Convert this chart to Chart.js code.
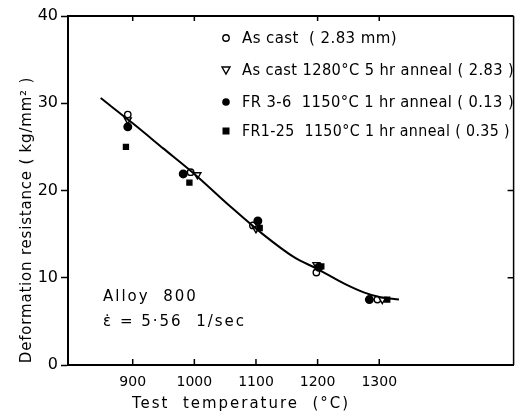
<!DOCTYPE html>
<html>
<head>
<meta charset="utf-8">
<title>Alloy 800 deformation resistance</title>
<script src="https://cdn.jsdelivr.net/npm/chart.js@4.4.1/dist/chart.umd.min.js"></script>
<style>
  html, body { margin: 0; padding: 0; background: #fff; }
  #wrap { width: 519px; height: 414px; }
</style>
</head>
<body>
<div id="wrap"><canvas id="chart" width="519" height="414"></canvas></div>
<script>
// axis ticks
var xTicks = [900, 1000, 1100, 1200, 1300];
var yTicks = [0, 10, 20, 30, 40];

// measured points, one pair of arrays per specimen
var asCastX = [892, 994, 1095, 1198, 1297];
var asCastY = [28.7, 22.1, 16.0, 10.6, 7.5];
var annealX = [892, 1005, 1100, 1198, 1305];
var annealY = [28.1, 21.8, 15.6, 11.5, 7.5];
var fr36X = [892, 982, 1103, 1202, 1284];
var fr36Y = [27.3, 21.9, 16.5, 11.2, 7.5];
var fr125X = [889, 992, 1106, 1206, 1313];
var fr125Y = [25.0, 20.9, 15.7, 11.3, 7.5];

// hand-fitted curve through all specimens
var fitX = [848, 900, 950, 1000, 1058, 1111, 1163, 1200, 1244, 1276, 1300, 1332];
var fitY = [30.6, 27.7, 24.8, 21.9, 18.2, 15.0, 12.3, 11.0, 9.3, 8.3, 7.8, 7.5];

var legendLabels = [
  'As cast  ( 2.83 mm)',
  'As cast 1280\u00b0C 5 hr anneal ( 2.83 )',
  'FR 3-6  1150\u00b0C 1 hr anneal ( 0.13 )',
  'FR1-25  1150\u00b0C 1 hr anneal ( 0.35 )'
];

function pts(xs, ys) {
  return xs.map(function (x, i) { return { x: x, y: ys[i] }; });
}

var ink = '#000';

function marker(ctx, kind, x, y) {
  ctx.save();
  ctx.lineWidth = 1.4;
  ctx.strokeStyle = ink;
  ctx.fillStyle = ink;
  ctx.beginPath();
  if (kind === 'open') {
    ctx.fillStyle = '#fff';
    ctx.arc(x, y, 3.2, 0, Math.PI * 2);
    ctx.fill();
    ctx.stroke();
  } else if (kind === 'tri') {
    ctx.fillStyle = '#fff';
    ctx.moveTo(x - 4, y - 3);
    ctx.lineTo(x + 4, y - 3);
    ctx.lineTo(x, y + 4);
    ctx.closePath();
    ctx.fill();
    ctx.stroke();
  } else if (kind === 'dot') {
    ctx.arc(x, y, 3.8, 0, Math.PI * 2);
    ctx.fill();
  } else {
    ctx.fillRect(x - 3.5, y - 3.5, 7, 7);
  }
  ctx.restore();
}

// frame, inward ticks, legend and notes
var decor = {
  id: 'decor',
  afterDraw: function (chart) {
    var ctx = chart.ctx;
    var a = chart.chartArea;
    var xs = chart.scales.x;
    var ys = chart.scales.y;
    ctx.save();
    ctx.strokeStyle = ink;
    ctx.lineWidth = 2;
    ctx.beginPath();
    ctx.moveTo(a.left, a.top);
    ctx.lineTo(a.right, a.top);
    ctx.stroke();
    ctx.lineWidth = 1.5;
    ctx.beginPath();
    ctx.moveTo(a.right, a.top);
    ctx.lineTo(a.right, a.bottom);
    ctx.stroke();

    ctx.lineWidth = 1.5;
    xTicks.forEach(function (v) {
      var px = xs.getPixelForValue(v);
      ctx.beginPath();
      ctx.moveTo(px, a.bottom);
      ctx.lineTo(px, a.bottom - 6);
      if (v !== 1100) {
        ctx.moveTo(px, a.top);
        ctx.lineTo(px, a.top + 5);
      }
      ctx.stroke();
    });
    [10, 20].forEach(function (v) {
      var py = ys.getPixelForValue(v);
      ctx.beginPath();
      ctx.moveTo(a.right, py);
      ctx.lineTo(a.right - 6, py);
      ctx.stroke();
    });

    // legend
    var kinds = ['open', 'tri', 'dot', 'sq'];
    var rows = [38, 70, 102, 131];
    var widths = [172, 272, 272, 268];
    ctx.fillStyle = ink;
    ctx.font = '15px "DejaVu Sans"';
    ctx.letterSpacing = '0.4px';
    ctx.textBaseline = 'middle';
    ctx.textAlign = 'left';
    legendLabels.forEach(function (t, i) {
      marker(ctx, kinds[i], 226, rows[i]);
      ctx.fillStyle = ink;
      ctx.fillText(t, 242, rows[i] + 1, widths[i]);
    });

    // notes
    ctx.font = '15px "DejaVu Sans"';
    ctx.letterSpacing = '2px';
    ctx.fillText('Alloy  800', 103, 297);
    ctx.fillText('\u03b5\u0307 = 5\u00b756  1/sec', 103, 322);

    // axis titles
    ctx.letterSpacing = '2px';
    ctx.textAlign = 'center';
    ctx.fillText('Test  temperature  (\u00b0C)', 241, 404, 218);
    ctx.letterSpacing = '0.8px';
    ctx.translate(27, 220);
    ctx.rotate(-Math.PI / 2);
    ctx.fillText('Deformation resistance ( kg/mm\u00b2 )', 0, 0, 298);
    ctx.restore();
  }
};

function series(label, xs, ys, style, fill, radius, rotation) {
  return {
    label: label,
    data: pts(xs, ys),
    showLine: false,
    pointStyle: style,
    pointRadius: radius,
    pointRotation: rotation || 0,
    pointBackgroundColor: fill,
    pointBorderColor: ink,
    pointBorderWidth: 1.4
  };
}

new Chart(document.getElementById('chart'), {
  type: 'scatter',
  data: {
    datasets: [
      {
        label: 'fit',
        data: pts(fitX, fitY),
        showLine: true,
        borderColor: ink,
        borderWidth: 2,
        pointRadius: 0,
        cubicInterpolationMode: 'monotone'
      },
      series(legendLabels[3], fr125X, fr125Y, 'rect', ink, 3.5),
      series(legendLabels[2], fr36X, fr36Y, 'circle', ink, 3.8),
      series(legendLabels[1], annealX, annealY, 'triangle', '#fff', 4, 180),
      series(legendLabels[0], asCastX, asCastY, 'circle', '#fff', 3.2)
    ]
  },
  options: {
    responsive: false,
    animation: false,
    layout: { padding: { left: 0, top: 16, right: 3, bottom: 0 } },
    plugins: {
      legend: { display: false },
      tooltip: { enabled: false }
    },
    scales: {
      x: {
        type: 'linear',
        min: 795,
        max: 1518,
        afterFit: function (s) { s.height = 49; },
        afterBuildTicks: function (s) {
          s.ticks = xTicks.map(function (v) { return { value: v }; });
        },
        border: { display: true, color: ink, width: 2 },
        grid: { display: true, drawOnChartArea: false, drawTicks: false },
        ticks: {
          color: ink,
          padding: 9,
          font: { family: 'DejaVu Sans', size: 14 },
          callback: function (v) { return String(v); }
        }
      },
      y: {
        min: 0,
        max: 40,
        afterFit: function (s) { s.width = 68; },
        afterBuildTicks: function (s) {
          s.ticks = yTicks.map(function (v) { return { value: v }; });
        },
        border: { display: true, color: ink, width: 2 },
        grid: {
          display: true,
          drawOnChartArea: false,
          drawTicks: true,
          tickLength: 7,
          tickColor: ink,
          tickWidth: 1.5
        },
        ticks: {
          color: ink,
          padding: 3,
          font: { family: 'DejaVu Sans', size: 16 },
          callback: function (v) { return String(v); }
        }
      }
    }
  },
  plugins: [decor]
});
</script>
</body>
</html>
